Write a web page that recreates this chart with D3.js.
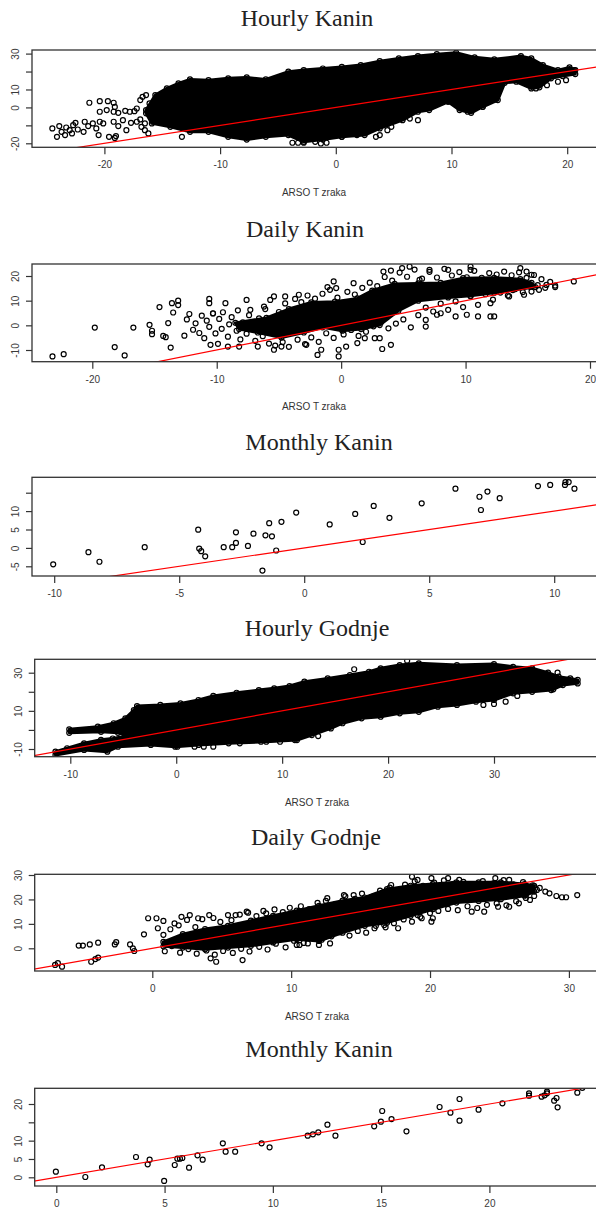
<!DOCTYPE html>
<html><head><meta charset="utf-8">
<script src="https://cdn.jsdelivr.net/npm/d3@7"></script>
<style>body{margin:0;background:#fff}svg{display:block}</style>
</head><body>
<script>
// ---------------- DATA ----------------
const titles = ["Hourly Kanin","Daily Kanin","Monthly Kanin","Hourly Godnje","Daily Godnje","Monthly Kanin"];
const xAxisLabel = "ARSO T zraka";

// tick values and which of them carry a label
const xTicks1 = [-20,-10,0,10,20], yTicks1 = [-20,-10,0,10,20,30], yLab1 = [-20,0,10,30];
const xTicks2 = [-20,-10,0,10,20], yTicks2 = [-10,0,10,20], yLab2 = [-10,0,10,20];
const xTicks3 = [-10,-5,0,5,10], yTicks3 = [-5,0,5,10,15], yLab3 = [-5,0,5,10];
const xTicks4 = [-10,0,10,20,30], yTicks4 = [-10,0,10,20,30], yLab4 = [-10,10,30];
const xTicks5 = [0,10,20,30], yTicks5 = [0,10,20,30], yLab5 = [0,10,20,30];
const xTicks6 = [0,5,10,15,20], yTicks6 = [0,5,10,15,20], yLab6 = [0,5,10,20];

// Hourly Kanin: outline of the saturated point cloud + separate points
const hourlyKaninCloud = [[-16.4,-1.5],[-15.6,6.9],[-14.6,10.6],[-13.6,13.4],[-12.6,15.6],[-11.0,15.2],[-9.3,16.2],[-7.7,16.7],[-6.05,15.6],[-4.1,19.9],[-2.77,20.8],[-1.12,21.7],[0.52,22.6],[2.16,23.6],[3.8,25.8],[5.45,27.3],[7.1,28.6],[8.73,29.7],[10.4,30.5],[12.0,27.9],[13.7,26.8],[16.0,28.6],[16.9,27.3],[17.9,23.6],[19.2,20.8],[20.2,22.3],[20.7,20.8],[20.7,18.6],[19.6,17.5],[18.6,16.2],[17.6,11.2],[16.9,10.6],[15.6,14.3],[14.6,13.7],[14.0,4.1],[12.7,0.35],[11.7,-3.0],[10.7,-1.5],[9.7,3.1],[8.07,-1.5],[7.1,-2.4],[5.77,-7.1],[3.8,-11.7],[2.49,-15.4],[0.52,-16.4],[-1.12,-17.9],[-2.77,-19.2],[-4.1,-15.4],[-6.05,-16.4],[-7.7,-17.9],[-9.3,-16.4],[-11.0,-13.6],[-12.6,-13.6],[-14.3,-10.8],[-15.9,-8.9],[-16.4,-3.3]];
const hourlyKaninX = [-24.5,-24.1,-23.9,-23.7,-23.4,-23.3,-23.0,-22.8,-22.7,-22.5,-22.3,-21.8,-21.7,-21.4,-21.0,-20.7,-20.4,-20.1,-19.2,-18.8,-18.4,-18.1,-17.7,-17.2,-16.9,-16.8,-16.5,-21.3,-20.4,-19.7,-19.2,-19.1,-20.4,-19.8,-19.2,-18.8,-18.2,-17.8,-17.4,-17.2,-20.5,-19.6,-19.1,-19.0,-16.9,-16.7,-16.4,-16.1,-16.5,-16.2,-13.3,-3.75,-3.26,-2.77,-1.78,-1.29,-0.8,0.52,1.83,3.47,3.8,17.3,18.25,19.2,19.9,20.2,20.6,11.4,12.0,12.7,13.7,10.7,7.1,6.4,4.8,4.46];
const hourlyKaninY = [-11.7,-16.4,-10.4,-13.6,-15.4,-11.2,-12.7,-14.5,-9.9,-8.6,-12.3,-13.6,-8.0,-10.4,-8.9,-11.7,-8.0,-8.9,-8.0,-10.4,-7.1,-12.7,-8.6,-8.0,-6.7,-10.8,-8.9,2.6,3.5,3.5,2.6,0.3,-2.4,-1.5,-2.4,-3.0,-1.9,-2.4,-2.1,-0.6,-15.4,-16.4,-17.0,-16.0,4.1,5.9,6.9,2.2,-12.7,-14.5,-16.4,-19.7,-19.7,-19.7,-19.2,-20.1,-19.7,-16.4,-15.4,-16.4,-15.4,10.6,12.4,14.3,15.2,19.9,20.8,-2.4,0.35,0.35,4.4,1.3,-7.1,-6.2,-10.8,-12.7];

// Daily Kanin: dense core outline + individual points
const dailyKaninCore = [[-8.5,1.0],[-6.0,3.0],[-4.2,6.6],[-2.4,9.3],[-0.5,9.6],[1.3,10.9],[2.5,14.1],[4.3,16.8],[6.2,17.0],[8.0,17.2],[9.8,19.1],[12.3,19.3],[14.4,18.7],[15.3,17.2],[15.6,15.5],[13.8,14.3],[12.3,13.2],[10.4,12.0],[8.6,11.3],[6.2,10.0],[4.6,5.9],[3.1,0.1],[1.6,-1.5],[0.1,-2.2],[-1.5,-0.8],[-3.0,-2.9],[-4.8,-4.9],[-6.7,-2.9],[-8.2,-1.5]];
const dailyKaninX = [-23.2,-22.3,-19.8,-18.2,-17.4,-16.7,-15.4,-15.2,-15.2,-14.6,-14.3,-14.1,-13.9,-13.7,-13.6,-13.5,-13.1,-13.1,-10.6,-10.6,-10.3,-10.5,-9.9,-9.3,-9.1,-7.6,-7.3,-6.2,-8.2,-6.7,-5.4,-4.8,-5.7,-5.4,-4.5,-3.4,-2.8,-1.9,-1.6,-1.1,-0.6,-0.4,-0.2,-0.2,0.4,1.0,1.3,1.9,2.7,3.1,3.3,4.0,3.4,4.0,4.9,5.5,6.3,6.8,6.8,7.1,7.7,8.0,8.6,9.2,10.1,10.4,10.4,11.0,12.0,12.0,12.3,13.5,14.7,15.3,15.9,16.5,17.2,18.7,14.4,14.9,15.3,
  -12.6,-12.4,-12.2,-11.9,-11.7,-11.4,-11.2,-11.0,-10.8,-10.6,-10.3,-10.1,-9.8,-9.6,-9.5,-9.1,-9.0,-8.8,-8.4,-8.3,-8.1,-7.9,-7.6,-7.4,-7.0,-6.9,-6.6,-6.3,-6.1,-5.8,-5.5,-5.3,-5.0,-4.7,-4.5,-4.2,-4.0,-3.7,-3.5,-3.2,-2.9,-2.7,-2.4,-2.1,-1.8,-1.5,-1.2,-0.9,-0.6,-0.3,0.2,0.5,0.8,1.1,1.4,1.7,2.0,2.3,2.6,2.9,3.2,3.5,3.8,4.1,4.4,4.7,5.0,5.3,5.6,5.9,6.2,6.5,6.8,7.1,7.4,7.7,8.0,8.3,8.6,8.9,9.2,9.5,9.8,10.1,10.4,10.7,11.0,11.3,11.6,11.9,12.2,12.5,12.8,13.1,13.4,13.7,14.0,14.3,14.6,14.9,15.2,15.5,15.8,16.1,16.4,16.8,17.2];
const dailyKaninY = [-12.6,-11.7,-0.9,-8.8,-12.2,-0.9,0.2,-2.2,-3.6,7.4,-4.3,-4.8,0.9,-9.0,9.0,5.2,10.0,8.2,10.7,9.0,4.9,-7.9,-7.5,9.0,-8.6,10.3,6.3,7.6,-8.6,-8.6,-9.9,-8.6,10.3,11.7,11.7,12.4,-7.9,-12.0,-9.9,15.5,17.8,15.1,-12.6,-9.9,-8.6,17.1,-7.2,-5.2,-5.2,-5.2,-9.6,-7.9,21.8,22.2,23.2,23.8,18.4,-0.5,2.2,22.5,4.3,4.9,22.5,3.6,4.3,22.5,23.8,3.6,9.0,3.6,3.6,11.7,12.4,13.7,14.4,16.4,15.5,17.8,23.2,21.8,20.5,
  -4.2,2.4,4.6,-1.8,0.8,-3.1,3.9,-5.2,1.9,-0.6,4.8,-3.3,2.6,-1.4,5.3,-4.6,0.4,3.3,-2.2,6.1,-5.7,1.2,-3.4,4.1,-1.1,-6.3,2.8,-4.4,6.6,-7.4,0.3,-8.2,5.4,-6.8,8.9,-8.7,3.1,10.7,-5.8,9.4,-7.6,12.1,-4.9,10.8,-6.7,12.8,-3.2,14.4,-5.1,11.2,-3.7,13.6,-1.9,12.5,-4.3,15.2,-2.6,17.3,-0.4,15.9,1.3,19.6,-1.2,18.1,0.7,21.4,2.4,19.7,-0.8,22.6,4.1,18.9,7.2,21.7,5.6,19.4,8.8,22.9,6.3,20.2,9.7,21.6,7.4,19.5,11.8,22.1,8.3,19.3,12.6,21.2,10.4,20.6,13.3,21.8,12.1,20.3,14.7,21.5,13.5,19.2,15.6,20.4,16.3,18.7,15.2,17.6,16.1];

// Monthly Kanin
const monthlyKaninX = [-10.04,-8.63,-8.19,-6.38,-4.24,-4.2,-4.12,-3.96,-3.22,-2.88,-2.73,-2.73,-2.25,-2.03,-1.55,-1.67,-1.4,-1.29,-1.12,-0.91,-0.32,1.02,2.04,2.34,2.78,3.41,4.7,6.05,7.01,7.07,7.33,7.82,9.35,9.84,10.43,10.45,10.58,10.81];
const monthlyKaninY = [-4.47,-1.16,-3.76,0.19,4.94,-0.17,-0.89,-2.3,0.19,0.19,1.35,4.22,0.55,3.86,3.41,-6.17,6.73,3.14,-0.71,7.09,9.6,6.37,9.24,1.61,11.4,8.17,12.1,16.1,13.9,10.3,15.3,13.5,16.8,17.1,17.1,17.9,17.9,16.1];

// Hourly Godnje
const hourlyGodnjeCloud = [[-10.1,0.3],[-7.4,1.7],[-5.9,3.5],[-4.8,6.1],[-4.0,10.4],[-3.7,12.5],[-1.5,13.1],[0.4,13.9],[2.1,15.7],[3.5,17.8],[5.7,19.5],[7.8,20.9],[9.25,21.8],[10.7,23.0],[12.1,25.3],[14.3,27.0],[16.4,28.8],[18.2,30.5],[19.3,32.3],[21.1,34.0],[22.9,34.9],[26.5,34.0],[30.0,34.5],[31.8,33.1],[33.6,32.3],[35.1,30.0],[36.1,27.9],[37.2,27.0],[37.9,26.2],[37.9,24.4],[36.5,23.5],[35.4,20.9],[33.6,20.0],[31.8,19.2],[30.0,15.7],[28.3,14.8],[26.5,13.1],[24.7,12.2],[22.9,9.5],[21.1,8.7],[19.3,6.9],[17.5,6.1],[15.7,3.5],[14.6,0.8],[12.8,-2.7],[11.4,-5.3],[8.5,-6.2],[4.95,-7.0],[2.1,-7.9],[-0.1,-8.8],[-2.4,-7.9],[-5.5,-8.8],[-6.5,-11.4],[-8.7,-10.5],[-11.4,-13.2],[-11.4,-11.4],[-10.3,-9.6],[-8.7,-7.0],[-7.1,-5.2],[-6.0,-4.5],[-4.5,-3.0],[-5.5,-1.5],[-7.1,-1.0],[-10.1,-1.5]];
const hourlyGodnjeX = [0.11,1.73,2.6,3.5,6.0,8.0,9.8,11.2,13.4,33.3,34.3,35.1,35.6,32.2,31.1,30.0,29.0,21.8,16.8,36.0];
const hourlyGodnjeY = [-8.8,-8.8,-8.8,-8.8,-7.0,-6.2,-6.2,-5.3,-3.2,21.8,22.7,23.5,21.3,17.8,14.8,13.6,13.1,36.3,31.8,30.0];

// Daily Godnje
const dailyGodnjeCore = [[0.8,2.6],[2.2,5.8],[3.8,7.9],[5.45,9.2],[7.1,11.3],[8.7,13.3],[10.4,15.4],[12.0,17.4],[13.7,19.5],[15.3,20.8],[16.9,24.2],[18.6,25.6],[20.2,26.3],[21.9,27.0],[23.5,27.0],[25.1,27.0],[26.8,26.3],[27.5,25.6],[27.5,23.2],[26.8,21.5],[25.1,20.1],[23.5,19.4],[21.9,18.7],[20.2,16.0],[18.6,13.3],[16.9,10.5],[15.3,9.2],[13.7,6.4],[12.0,3.0],[10.4,3.7],[8.7,2.4],[7.1,1.0],[5.45,0.3],[3.8,-0.4],[2.2,0.3],[0.8,0.8]];
const dailyGodnjeX = [-7.0,-6.8,-6.5,-5.3,-5.0,-4.5,-4.4,-4.1,-3.9,-3.9,-2.7,-2.6,-1.6,-1.4,-1.3,-0.6,-0.3,0.3,0.8,0.4,2.1,1.6,2.7,3.3,4.1,4.2,4.6,5.45,6.0,6.5,6.8,8.2,10.4,10.6,11.2,12.0,12.8,12.6,13.8,14.5,16.0,16.7,17.2,17.7,18.7,19.1,19.1,19.4,20.1,20.2,20.1,21.3,22.1,23.0,23.9,24.7,24.9,25.7,25.7,26.4,27.2,26.9,27.7,28.3,28.6,29.1,29.5,29.8,30.6,
  0.8,1.3,1.9,2.5,3.1,3.6,4.4,4.9,5.7,6.3,6.9,7.5,8.0,8.8,9.4,9.9,10.7,11.3,11.9,12.5,13.2,13.9,14.6,15.1,15.8,16.4,17.1,17.6,18.2,18.9,19.5,20.3,21.0,21.7,22.4,23.1,23.8,24.6,25.3,26.0,26.7,27.4,27.9,
  0.9,1.4,2.0,2.6,3.2,3.9,4.5,5.1,5.8,6.4,7.0,7.7,8.3,8.9,9.6,10.2,10.9,11.5,12.2,12.9,13.5,14.2,14.8,15.4,16.1,16.8,17.4,18.1,18.7,19.3,20.0,20.6,21.3,22.0,22.7,23.4,24.1,24.8,25.5,26.2,26.9,27.5];
const dailyGodnjeY = [-6.8,-6.1,-7.5,1.1,1.1,1.6,-5.5,-4.4,-3.8,2.3,1.6,2.5,1.6,0,-1.1,5.7,12.3,12.3,11.2,8.2,12.9,10.2,13.6,12.3,13.6,-4.1,-5.5,13.6,13.6,-4.8,15.0,14.3,1.4,1.4,2.0,1.4,2.0,20.5,21.8,21.8,8.2,9.5,25.9,8.2,29.3,28.0,13.6,12.3,10.9,12.3,28.7,28.7,28.0,15.0,15.0,28.7,17.0,17.0,28.0,18.4,19.8,21.8,23.9,23.2,22.5,21.4,20.9,20.9,21.8,
  5.5,7.8,9.4,11.6,8.7,11.9,12.4,10.8,11.5,13.8,14.6,13.2,15.3,15.9,14.8,16.6,17.2,16.0,18.6,19.4,18.1,21.3,20.2,22.4,21.1,23.6,24.8,23.3,26.1,27.4,25.6,26.9,27.8,26.4,27.2,26.1,27.5,26.7,27.9,26.2,27.1,25.8,24.7,
  -1.2,0.9,-1.8,-0.3,-2.2,-0.9,-2.6,-1.1,-1.9,-0.2,-1.3,0.6,-0.5,1.9,0.4,3.1,2.2,4.3,3.5,4.9,6.6,5.2,7.1,6.4,9.2,8.6,10.3,11.8,10.9,12.9,14.4,15.3,16.1,15.6,17.2,16.5,17.8,18.4,17.6,19.3,20.6,21.4];

// Monthly (second) Kanin
const monthly2X = [-0.02,1.34,2.11,3.68,4.22,4.31,4.98,5.47,5.59,5.71,5.82,6.13,6.52,6.76,7.69,7.82,8.26,9.48,9.85,11.61,11.85,12.1,12.52,12.89,14.68,14.99,15.05,15.48,16.17,17.7,18.2,18.62,18.62,19.5,20.6,21.83,21.83,22.41,22.55,22.66,22.66,22.99,23.1,23.15,24.06,24.29];
const monthly2Y = [1.53,0.08,2.72,5.54,3.54,4.81,-1.0,3.36,5.09,5.09,5.27,2.63,5.99,4.81,9.27,7.0,7.0,9.27,8.18,11.36,11.72,12.27,14.36,11.36,13.9,15.17,18.09,15.9,12.54,19.18,17.63,21.36,15.45,18.45,20.18,22.9,22.27,22.0,22.36,23.36,22.9,20.9,21.64,19.1,23.1,24.4];

// ---------------- LAYOUT ----------------
const W = 596, H = 1209;
const panels = [
  {title:titles[0], tx:307, ty:26, box:[32,50,610,147.3], xa:[-20,20,104.4,567.2], ya:[-20,30,143.3,53.6], xt:xTicks1, yt:yTicks1, yl:yLab1, cloud:hourlyKaninCloud, px:hourlyKaninX, py:hourlyKaninY, xlab:[314,196]},
  {title:titles[1], tx:305, ty:237, box:[32,264,610,361.7], xa:[-20,20,92.3,590], ya:[-10,20,350,276], xt:xTicks2, yt:yTicks2, yl:yLab2, cloud:dailyKaninCore, px:dailyKaninX, py:dailyKaninY, xlab:[314,410]},
  {title:titles[2], tx:319, ty:450, box:[32,477.3,610,576], xa:[-10,10,54.2,554.2], ya:[-5,15,566.3,492.7], xt:xTicks3, yt:yTicks3, yl:yLab3, cloud:null, px:monthlyKaninX, py:monthlyKaninY, xlab:null},
  {title:titles[3], tx:317, ty:636, box:[34.7,659.3,610,756.7], xa:[-10,30,70.3,494], ya:[-10,30,749,672.7], xt:xTicks4, yt:yTicks4, yl:yLab4, cloud:hourlyGodnjeCloud, px:hourlyGodnjeX, py:hourlyGodnjeY, xlab:[317,806]},
  {title:titles[4], tx:316, ty:845, box:[34.7,874.3,610,971], xa:[0,30,152.3,568.9], ya:[0,30,948.3,875], xt:xTicks5, yt:yTicks5, yl:yLab5, cloud:dailyGodnjeCore, px:dailyGodnjeX, py:dailyGodnjeY, xlab:[317,1020]},
  {title:titles[5], tx:319, ty:1057, box:[34.7,1088.3,610,1186], xa:[0,20,56.3,489.4], ya:[0,20,1177.3,1104], xt:xTicks6, yt:yTicks6, yl:yLab6, cloud:null, px:monthly2X, py:monthly2Y, xlab:null}
];

const svg = d3.select("body").append("svg").attr("width", W).attr("height", H)
  .style("background","#fff");

const axisColor = "#333";
const R = 2.5, SW = 1.2;
panels.forEach((p, i) => {
  const [bl, bt, br, bb] = p.box;
  const x = d3.scaleLinear().domain([p.xa[0], p.xa[1]]).range([p.xa[2], p.xa[3]]);
  const y = d3.scaleLinear().domain([p.ya[0], p.ya[1]]).range([p.ya[2], p.ya[3]]);

  svg.append("text").attr("x", p.tx).attr("y", p.ty).attr("text-anchor","middle")
    .style("font-family","'Liberation Serif', serif").style("font-size","24px").style("fill","#222")
    .text(p.title);

  const clipId = "clip" + i;
  svg.append("clipPath").attr("id", clipId).append("rect")
    .attr("x", bl).attr("y", bt).attr("width", br - bl).attr("height", bb - bt);
  const g = svg.append("g").attr("clip-path", `url(#${clipId})`);

  if (p.cloud) {
    g.append("path").datum(p.cloud)
      .attr("d", d3.line().x(d => x(d[0])).y(d => y(d[1])).curve(d3.curveLinearClosed))
      .attr("fill","#000").attr("stroke","#000").attr("stroke-width",3).attr("stroke-linejoin","round");
    // rings sitting on the outline of the saturated cloud
    g.selectAll("circle.edge").data(p.cloud).join("circle").attr("class","edge")
      .attr("cx", d => x(d[0])).attr("cy", d => y(d[1])).attr("r", R)
      .attr("fill","none").attr("stroke","#000").attr("stroke-width",SW);
  }
  const pts = p.px.map((v, k) => [v, p.py[k]]);
  g.selectAll("circle.pt").data(pts).join("circle").attr("class","pt")
    .attr("cx", d => x(d[0])).attr("cy", d => y(d[1])).attr("r", R)
    .attr("fill","none").attr("stroke","#000").attr("stroke-width",SW);

  const x0 = x.invert(bl - 5), x1 = x.invert(br + 5);
  g.append("line").attr("x1", x(x0)).attr("y1", y(x0)).attr("x2", x(x1)).attr("y2", y(x1))
    .attr("stroke","#ff0000").attr("stroke-width",1.2);

  svg.append("rect").attr("x", bl).attr("y", bt).attr("width", br - bl).attr("height", bb - bt)
    .attr("fill","none").attr("stroke", axisColor).attr("stroke-width",1.3);

  const xa = svg.append("g").attr("transform", `translate(0,${bb})`)
    .call(d3.axisBottom(x).tickValues(p.xt).tickSize(7).tickPadding(7).tickFormat(d => String(d)));
  xa.select(".domain").remove();
  xa.selectAll("line").attr("stroke", axisColor).attr("stroke-width",1.2);
  xa.selectAll("text").style("font-family","'Liberation Sans', Arial, sans-serif").style("font-size","10px").attr("fill","#3a3a3a");

  const ya = svg.append("g").attr("transform", `translate(${bl},0)`)
    .call(d3.axisLeft(y).tickValues(p.yt).tickSize(6).tickFormat(d => p.yl.includes(d) ? String(d) : ""));
  ya.select(".domain").remove();
  ya.selectAll("line").attr("stroke", axisColor).attr("stroke-width",1.2);
  ya.selectAll("text").attr("transform","rotate(-90)").attr("x",0).attr("y",-13).attr("dy",0)
    .attr("text-anchor","middle")
    .style("font-family","'Liberation Sans', Arial, sans-serif").style("font-size","10px").attr("fill","#3a3a3a");

  if (p.xlab) {
    svg.append("text").attr("x", p.xlab[0]).attr("y", p.xlab[1]).attr("text-anchor","middle")
      .style("font-family","'Liberation Sans', Arial, sans-serif").style("font-size","10px").style("fill","#333")
      .text(xAxisLabel);
  }
});
</script>
</body></html>
